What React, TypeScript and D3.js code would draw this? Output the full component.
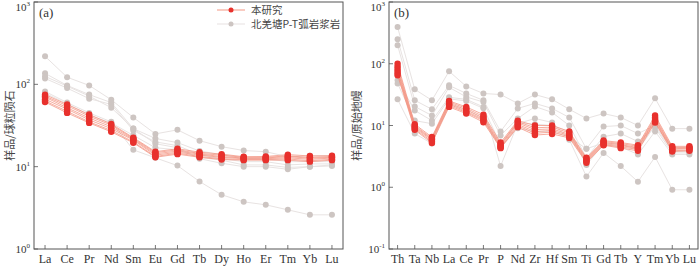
import React from "react";
import * as d3 from "d3";

const reeCats = ["La","Ce","Pr","Nd","Sm","Eu","Gd","Tb","Dy","Ho","Er","Tm","Yb","Lu"];
const spiderCats = ["Th","Ta","Nb","La","Ce","Pr","P","Nd","Zr","Hf","Sm","Ti","Gd","Tb","Y","Tm","Yb","Lu"];

const reeThis = [
  [75, 57, 43, 33, 22.5, 15.2, 16.5, 15, 14.2, 13.2, 13.3, 14, 13.5, 13.6],
  [72, 55, 41, 32, 22, 14.8, 16, 14.5, 13.8, 13, 13, 13.5, 13, 13.3],
  [70, 52, 39, 30.5, 21.5, 14.3, 15.5, 14.2, 13.3, 12.7, 12.8, 13.2, 12.7, 13],
  [66, 50, 37, 29, 21, 13.8, 15, 13.8, 13, 12.5, 12.5, 12.8, 12.3, 12.7],
  [63, 47, 35, 27.5, 20, 13.3, 14.6, 13.3, 12.5, 12.2, 12.2, 12.4, 11.8, 12.3],
  [61, 45, 34, 26.5, 19.5, 13, 14.2, 13, 12.2, 12, 12, 12, 11.5, 12],
];
const reeArc = [
  [219, 122, 97, 65, 39.6, 25, 28, 20.7, 17.5, 15.7, 15.2, 13.2, 13.6, 13.6],
  [136, 97, 75, 60, 29, 22, 19.6, 15.5, 14, 12.5, 12.5, 11.5, 11.5, 11.5],
  [118, 90, 67, 57, 27.5, 20, 18, 14, 12.5, 11.5, 11.5, 10.5, 10.8, 10.8],
  [82, 60, 45, 35, 16, 12.8, 10.3, 6.6, 4.56, 3.74, 3.44, 2.99, 2.6, 2.6],
  [125, 95, 72, 52, 29, 19, 17, 12.5, 11, 10, 10, 9.3, 10, 10.2],
  [78, 58, 42, 34, 24, 17, 16, 13, 12, 10.5, 10.5, 9.8, 10, 10.5],
];
const spiderThis = [
  [100, 10.5, 6.5, 25, 20, 15, 5.3, 12, 10, 10, 8, 3.0, 5.7, 5.3, 4.8, 14.5, 4.6, 4.6],
  [90, 10, 6.2, 24, 19, 14, 5.0, 11.5, 9.2, 9.4, 7.6, 2.9, 5.5, 5.1, 4.6, 13.5, 4.4, 4.4],
  [82, 9.6, 6.0, 23, 18, 13.2, 4.8, 11, 8.6, 8.8, 7.2, 2.8, 5.3, 4.9, 4.4, 12.8, 4.2, 4.3],
  [76, 9.2, 5.8, 22, 17, 12.5, 4.6, 10.4, 8.0, 8.3, 6.9, 2.7, 5.1, 4.7, 4.3, 12.2, 4.1, 4.2],
  [70, 8.8, 5.5, 21, 16.3, 12, 4.4, 9.9, 7.5, 7.8, 6.6, 2.6, 4.9, 4.5, 4.1, 11.6, 3.9, 4.0],
  [65, 8.5, 5.2, 20, 15.6, 11.3, 4.3, 9.4, 7.0, 7.3, 6.3, 2.5, 4.8, 4.3, 3.9, 11.2, 3.8, 3.9],
];
const spiderArc = [
  [392, 38.5, 25.6, 75.5, 43, 33, 31.7, 22.8, 31.7, 26.5, 18.3, 13, 15.6, 13.5, 10, 27.5, 8.9, 8.9],
  [250, 25.6, 18.3, 44.7, 33, 25.6, 8.0, 18.9, 22.8, 18.9, 13.5, 4.2, 9.6, 10, 7.4, 10, 4.5, 4.5],
  [200, 20.3, 14.5, 41.5, 29, 24, 6.9, 13, 20.3, 16.3, 10, 3.0, 6.6, 7.4, 5.5, 9.2, 3.6, 3.6],
  [54, 17.5, 12, 28.6, 26.5, 20, 2.2, 10.7, 13, 11.2, 5.9, 1.49, 3.6, 2.2, 1.23, 3.1, 0.91, 0.91],
  [48, 12, 10.7, 27, 25, 19, 5.0, 11, 10.5, 10, 8.0, 2.3, 5.0, 4.5, 3.4, 8, 3.4, 3.4],
  [26.5, 7.4, 5.1, 22, 18, 13, 4.5, 9, 8, 8, 6.5, 4.2, 5.2, 5.0, 4.0, 10, 3.8, 3.8],
];

const legendLabels = ["本研究", "北羌塘P-T弧岩浆岩"];
const panelTitles = ["(a)", "(b)"];
const yTitles = ["样品/球粒陨石", "样品/原始地幔"];

const RED = "#e8312d";
const RED_LINE = "#f3927f";
const GRAY = "#cdc5c2";
const GRAY_LINE = "#e8e3e2";
const FRAME = "#555";
const SERIF = "'Liberation Serif', 'Times New Roman', serif";
const CJK = "'Noto Sans CJK SC', sans-serif";

function Panel({ x0, x1, y0, y1, cats, expMin, expMax, thisData, arcData, title, yTitle, yTitleX, legend }) {
  const xs = d3.scalePoint().domain(cats).range([x0, x1]).padding(0.5);
  const ys = d3.scaleLog().domain([Math.pow(10, expMin), Math.pow(10, expMax)]).range([y1, y0]);
  const line = d3.line().x((d, i) => xs(cats[i])).y(d => ys(d));
  const exps = d3.range(expMin, expMax + 1);
  return (
    <g>
      {arcData.map((s, k) => (
        <path key={"ga" + k} d={line(s)} fill="none" stroke={GRAY_LINE} strokeWidth={1} />
      ))}
      {arcData.map((s, k) => s.map((v, i) => (
        <circle key={"gp" + k + "-" + i} cx={xs(cats[i])} cy={ys(v)} r={3} fill={GRAY} />
      )))}
      {thisData.map((s, k) => (
        <path key={"ra" + k} d={line(s)} fill="none" stroke={RED_LINE} strokeWidth={1} strokeOpacity={0.75} />
      ))}
      {thisData.map((s, k) => s.map((v, i) => (
        <circle key={"rp" + k + "-" + i} cx={xs(cats[i])} cy={ys(v)} r={3.2} fill={RED} />
      )))}
      <rect x={x0} y={y0} width={x1 - x0} height={y1 - y0} fill="none" stroke={FRAME} strokeWidth={1} />
      {cats.map(c => (
        <g key={"xt" + c}>
          <line x1={xs(c)} x2={xs(c)} y1={y1} y2={y1 - 4} stroke={FRAME} strokeWidth={0.8} />
          <text x={xs(c)} y={y1 + 14} textAnchor="middle" fontFamily={SERIF} fontSize={12} fill="#333">{c}</text>
        </g>
      ))}
      {exps.map(e => (
        <g key={"yt" + e}>
          <line x1={x0} x2={x0 + 4} y1={ys(Math.pow(10, e))} y2={ys(Math.pow(10, e))} stroke={FRAME} strokeWidth={0.8} />
          <text x={x0 - 4} y={Math.max(ys(Math.pow(10, e)) + 4, 11)} textAnchor="end" fontFamily={SERIF} fontSize={11} fill="#333">
            10<tspan dy={-5} fontSize={7}>{e}</tspan>
          </text>
        </g>
      ))}
      <text x={x0 + 5} y={y0 + 15} fontFamily={SERIF} fontSize={13} fill="#333">{title}</text>
      <text transform={`translate(${yTitleX},${(y0 + y1) / 2}) rotate(-90)`} textAnchor="middle" fontFamily={CJK} fontSize={11} fill="#444">{yTitle}</text>
      {legend && (
        <g>
          <line x1={217} x2={245} y1={10} y2={10} stroke="#f6a898" strokeWidth={1.2} />
          <circle cx={231} cy={10} r={2.5} fill={RED} />
          <text x={251} y={13.5} fontFamily={CJK} fontSize={10.5} fill="#444">{legendLabels[0]}</text>
          <line x1={217} x2={245} y1={24} y2={24} stroke="#ebe7e6" strokeWidth={1.2} />
          <circle cx={231} cy={24} r={2.5} fill={GRAY} />
          <text x={251} y={28} fontFamily={CJK} fontSize={10.5} fill="#444">{legendLabels[1]}</text>
        </g>
      )}
    </g>
  );
}

export default function App() {
  return (
    <svg width={700} height={266} style={{ position: "absolute", left: 0, top: 0, background: "#fff" }}>
      <Panel x0={34} x1={343} y0={2} y1={249} cats={reeCats} expMin={0} expMax={3}
        thisData={reeThis} arcData={reeArc} title={panelTitles[0]} yTitle={yTitles[0]} yTitleX={14} legend />
      <Panel x0={389} x1={698} y0={2} y1={249} cats={spiderCats} expMin={-1} expMax={3}
        thisData={spiderThis} arcData={spiderArc} title={panelTitles[1]} yTitle={yTitles[1]} yTitleX={361} />
    </svg>
  );
}
